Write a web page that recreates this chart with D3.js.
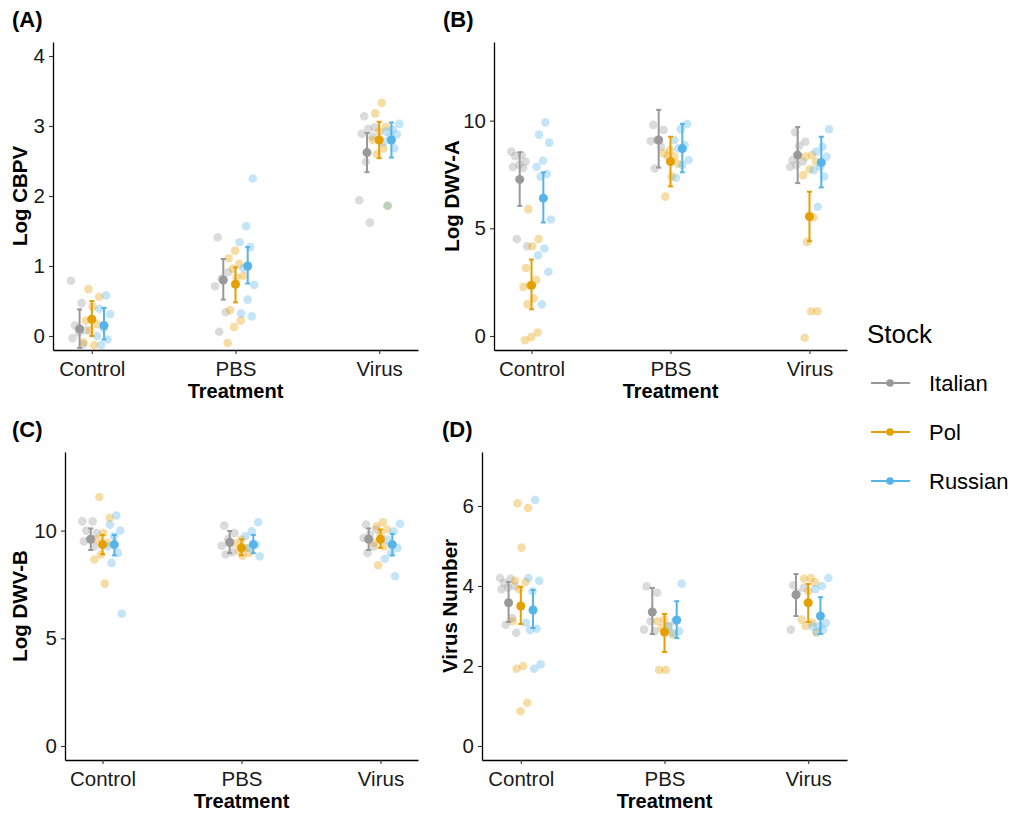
<!DOCTYPE html>
<html lang="en">
<head>
<meta charset="UTF-8">
<script src="https://d3js.org/d3.v7.min.js"></script>
<style>
  body { margin: 0; background: #fff; }
  text { font-family: "Liberation Sans", Arial, sans-serif; }
</style>
</head>
<body>
<svg class="chart"></svg>
<script>
var treatments = ["Control", "PBS", "Virus"];
var stocks = ["Italian", "Pol", "Russian"];
var stockColors = ["#999999", "#E69F00", "#56B4E9"];

// raw points, [stock][treatment]
var cbpvPoints = [
    [[0.79, 0.47, 0.15, 0.08, 0.05, -0.03, -0.12], [1.41, 0.91, 0.82, 0.71, 0.34, 0.06], [3.14, 2.98, 2.96, 2.89, 2.85, 2.49, 1.94, 1.62]],
    [[0.67, 0.56, 0.42, 0.22, 0.17, 0.08, -0.09, -0.13], [1.22, 1.11, 1.03, 0.96, 0.86, 0.84, 0.37, 0.22, 0.13, -0.10], [3.33, 3.18, 2.99, 2.92, 2.8, 2.68, 2.6, 1.86]],
    [[0.58, 0.39, 0.31, 0.11, 0.0, -0.05, -0.13], [2.25, 1.57, 1.34, 1.27, 0.97, 0.73, 0.52, 0.32, 0.28], [3.03, 2.95, 2.92, 2.88, 2.84, 2.77, 2.68, 1.86]]
];
var cbpvMean = [[0.10, 0.80, 2.62], [0.24, 0.74, 2.80], [0.15, 1.00, 2.80]];
var cbpvLow = [[-0.17, 0.52, 2.34], [0.0, 0.48, 2.54], [-0.05, 0.75, 2.55]];
var cbpvHigh = [[0.38, 1.10, 2.90], [0.50, 0.98, 3.06], [0.40, 1.27, 3.05]];

var dwvaPoints = [
    [[8.56, 8.4, 8.35, 8.1, 7.95, 7.85, 7.8, 4.5, 4.17], [9.8, 9.57, 9.1, 9.05, 8.79, 7.78], [9.46, 9.02, 8.82, 8.17, 8.1, 7.94, 7.86]],
    [[5.89, 4.5, 4.17, 3.16, 2.6, 2.36, 2.28, 1.74, 1.47, 0.16, -0.05, -0.2], [8.64, 8.48, 8.33, 8.36, 8.0, 7.4, 6.47], [8.4, 8.33, 8.09, 7.74, 7.47, 5.5, 4.37, 1.15, 1.15, -0.08]],
    [[9.92, 9.35, 8.98, 8.14, 7.86, 7.52, 7.4, 5.41, 4.06, 3.75, 2.98, 1.47], [9.84, 9.6, 9.1, 8.87, 8.71, 8.17, 7.94, 7.35], [9.6, 8.79, 8.56, 8.33, 7.86, 7.7, 7.4, 6.0]]
];
var dwvaMean = [[7.27, 9.1, 8.4], [2.35, 8.1, 5.55], [6.4, 8.7, 8.05]];
var dwvaLow = [[6.04, 7.82, 7.1], [1.24, 6.95, 4.4], [5.27, 7.6, 6.9]];
var dwvaHigh = [[8.53, 10.5, 9.7], [3.55, 9.25, 6.7], [7.6, 9.85, 9.25]];

var dwvbPoints = [
    [[10.43, 10.43, 10.0, 9.89, 9.61, 9.5, 9.27], [10.23, 9.89, 9.61, 9.3, 9.0, 8.89], [10.28, 10.05, 9.8, 9.66, 9.27, 8.96]],
    [[11.56, 10.59, 9.89, 9.6, 9.43, 8.89, 8.66, 7.54], [9.58, 9.4, 9.2, 9.05, 8.96, 8.84], [10.39, 10.2, 10.05, 9.8, 9.43, 9.27, 8.39]],
    [[10.7, 10.28, 10.0, 9.74, 9.27, 8.96, 8.5, 6.14], [10.39, 9.97, 9.74, 9.35, 9.2, 8.81], [10.32, 9.97, 9.58, 9.2, 8.96, 8.69, 7.88]]
];
var dwvbMean = [[9.6, 9.45, 9.6], [9.35, 9.2, 9.6], [9.35, 9.35, 9.35]];
var dwvbLow = [[9.1, 8.96, 9.1], [8.9, 8.85, 9.2], [8.85, 8.95, 8.85]];
var dwvbHigh = [[10.1, 9.98, 10.1], [9.8, 9.6, 10.05], [9.8, 9.8, 9.85]];

var numPoints = [
    [[4.2, 4.18, 4.08, 4.0, 3.96, 3.92, 3.2, 3.03, 2.83], [3.99, 3.83, 3.12, 2.91, 2.87], [4.02, 3.96, 3.83, 2.91]],
    [[6.07, 5.95, 4.96, 4.13, 4.1, 3.92, 3.12, 2.0, 1.93, 1.08, 0.87], [3.16, 3.12, 3.0, 2.95, 2.79, 1.9, 1.9], [4.2, 4.18, 4.09, 3.87, 3.16, 3.08, 3.0, 2.83]],
    [[6.15, 4.2, 4.13, 3.87, 3.08, 2.93, 2.9, 2.04, 1.93], [4.06, 3.12, 2.99, 2.87, 2.83], [4.2, 4.0, 3.92, 3.08, 3.0, 2.99, 2.91, 2.85]]
];
var numMean = [[3.58, 3.35, 3.78], [3.5, 2.85, 3.58], [3.4, 3.15, 3.25]];
var numLow = [[3.1, 2.8, 3.25], [3.05, 2.35, 3.1], [2.95, 2.7, 2.8]];
var numHigh = [[4.1, 3.95, 4.3], [3.98, 3.3, 4.05], [3.9, 3.62, 3.72]];

var svg = d3.select(".chart")
    .attr("width", 1015)
    .attr("height", 814);

var panels = [
    { tag: "(A)", ylab: "Log CBPV", pts: cbpvPoints, mean: cbpvMean, lo: cbpvLow, hi: cbpvHigh,
      ymax: 4, ticks: [0, 1, 2, 3, 4], left: 53, right: 418, top: 42, bottom: 350, tagX: 12, labX: 27 },
    { tag: "(B)", ylab: "Log DWV-A", pts: dwvaPoints, mean: dwvaMean, lo: dwvaLow, hi: dwvaHigh,
      ymax: 13, ticks: [0, 5, 10], left: 494, right: 847, top: 42, bottom: 350, tagX: 443, labX: 459 },
    { tag: "(C)", ylab: "Log DWV-B", pts: dwvbPoints, mean: dwvbMean, lo: dwvbLow, hi: dwvbHigh,
      ymax: 13, ticks: [0, 5, 10], left: 65, right: 418, top: 452, bottom: 760, tagX: 12, labX: 27 },
    { tag: "(D)", ylab: "Virus Number", pts: numPoints, mean: numMean, lo: numLow, hi: numHigh,
      ymax: 7, ticks: [0, 2, 4, 6], left: 482, right: 847, top: 452, bottom: 760, tagX: 442, labX: 457 }
];

panels.forEach(function(p) {
    var g = svg.append("g");

    var x = d3.scalePoint()
        .domain(treatments)
        .range([p.left, p.right])
        .padding(0.27);
    var step = x.step();

    var y = d3.scaleLinear()
        .domain([-0.05 * p.ymax, 1.05 * p.ymax])
        .range([p.bottom, p.top]);

    var dodge = function(s) { return (s - 1) * 0.085 * step; };

    // jittered raw points
    p.pts.forEach(function(byTreat, s) {
        byTreat.forEach(function(vals, t) {
            g.selectAll(null)
                .data(vals)
                .enter()
                .append("circle")
                .attr("cx", function(d, i) {
                    var j = ((i * 0.618034 + s * 0.31 + t * 0.17) % 1) - 0.5;
                    return x(treatments[t]) + dodge(s) + j * 0.12 * step;
                })
                .attr("cy", function(d) { return y(d); })
                .attr("r", 4.3)
                .attr("fill", stockColors[s])
                .attr("fill-opacity", 0.35);
        });
    });

    // error bars and means
    stocks.forEach(function(name, s) {
        treatments.forEach(function(tr, t) {
            var cx = x(tr) + dodge(s);
            var col = stockColors[s];
            g.append("line")
                .attr("x1", cx).attr("x2", cx)
                .attr("y1", y(p.lo[s][t])).attr("y2", y(p.hi[s][t]))
                .attr("stroke", col).attr("stroke-width", 2);
            [p.lo[s][t], p.hi[s][t]].forEach(function(v) {
                g.append("line")
                    .attr("x1", cx - 2.5).attr("x2", cx + 2.5)
                    .attr("y1", y(v)).attr("y2", y(v))
                    .attr("stroke", col).attr("stroke-width", 2);
            });
            g.append("circle")
                .attr("cx", cx)
                .attr("cy", y(p.mean[s][t]))
                .attr("r", 4.5)
                .attr("fill", col);
        });
    });

    var yAxis = g.append("g")
        .attr("transform", "translate(" + p.left + ",0)")
        .call(d3.axisLeft(y).tickValues(p.ticks).tickFormat(d3.format("d"))
            .tickSize(4).tickSizeOuter(0).tickPadding(4));
    var xAxis = g.append("g")
        .attr("transform", "translate(0," + p.bottom + ")")
        .call(d3.axisBottom(x).tickSize(4).tickSizeOuter(0).tickPadding(4));

    [yAxis, xAxis].forEach(function(ax) {
        ax.select(".domain").attr("stroke", "#000").attr("stroke-width", 1.3);
        ax.selectAll(".tick line").attr("stroke", "#333").attr("stroke-width", 1.1);
        ax.selectAll(".tick text")
            .attr("fill", "#1a1a1a")
            .style("font-size", "20.5px")
            .style("font-family", "'Liberation Sans', Arial, sans-serif");
    });
    xAxis.selectAll(".tick text").attr("y", 11);

    g.append("text")
        .attr("x", (p.left + p.right) / 2)
        .attr("y", p.bottom + 48)
        .attr("text-anchor", "middle")
        .style("font-size", "20px")
        .style("font-weight", "bold")
        .text("Treatment");

    g.append("text")
        .attr("transform", "translate(" + p.labX + "," + (p.top + p.bottom) / 2 + ") rotate(-90)")
        .attr("text-anchor", "middle")
        .style("font-size", "20.5px")
        .style("font-weight", "bold")
        .text(p.ylab);

    g.append("text")
        .attr("x", p.tagX)
        .attr("y", p.top - 15)
        .style("font-size", "22px")
        .style("font-weight", "bold")
        .text(p.tag);
});

// legend
var legend = svg.append("g");
legend.append("text")
    .attr("x", 867)
    .attr("y", 343)
    .style("font-size", "26px")
    .text("Stock");

stocks.forEach(function(name, s) {
    var ly = 383 + s * 49;
    legend.append("line")
        .attr("x1", 871).attr("x2", 910)
        .attr("y1", ly).attr("y2", ly)
        .attr("stroke", stockColors[s]).attr("stroke-width", 2);
    legend.append("circle")
        .attr("cx", 890).attr("cy", ly).attr("r", 3.8)
        .attr("fill", stockColors[s]);
    legend.append("text")
        .attr("x", 929)
        .attr("y", ly + 8)
        .style("font-size", "22px")
        .text(name);
});
</script>
</body>
</html>
